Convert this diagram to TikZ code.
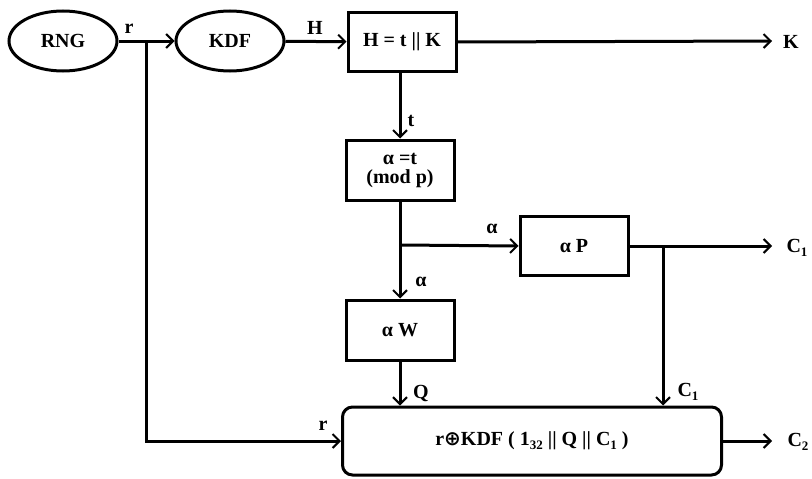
\documentclass[tikz,border=0pt]{standalone}
\usepackage{fontspec}
\setmainfont{Liberation Serif}
\newfontfamily\symfont{DejaVu Sans}
\usetikzlibrary{shapes.geometric,arrows.meta}

\newcommand{\lowsub}[1]{\raisebox{-0.45ex}{\fontsize{13}{13}\selectfont #1}}

\tikzset{
  blk/.style={draw, line width=3pt, minimum width=108pt, minimum height=59pt, inner sep=0pt, align=center},
  oval/.style={draw, ellipse, line width=3pt, minimum width=108pt, minimum height=60pt, inner sep=0pt},
  wire/.style={line width=3pt, -{Straight Barb[length=7pt,width=14pt,line width=2pt]}},
  lbl/.style={inner sep=0pt}
}

\begin{document}
\begin{tikzpicture}[x=1pt, y=-1pt, font=\fontsize{20}{22}\selectfont\bfseries, line cap=butt, line join=miter]

  %% ==== blocks ====
  \node[oval] (rng)  at (63,41)   {RNG};
  \node[oval] (kdf)  at (230,41)  {KDF};
  \node[blk]  (split) at (402,42) {H = t || K};
  \node[blk, minimum height=60pt] (amod) at (400,170) {α =t\\[-3pt](mod p)};
  \node[blk]  (ap)   at (574,246) {α P};
  \node[blk, minimum height=60pt] (aw) at (400,330) {α W};
  \node[draw, line width=3pt, rounded corners=10pt, minimum width=379pt, minimum height=68pt, inner sep=0pt]
        (enc) at (532,441) {r{\symfont ⊕}KDF ( 1\lowsub{32} || Q || C\lowsub{1} )};

  %% ==== branch points and free ends ====
  \coordinate (rfork) at (146,41);
  \coordinate (afork) at (400,245);
  \coordinate (cfork) at (663,246);
  \coordinate (kend)  at (772,41);
  \coordinate (c1end) at (772,246);
  \coordinate (c2end) at (772,441);

  %% ==== connectors ====
  \draw[wire] (rng) -- (kdf);
  \draw[wire] (rfork) |- (enc.west);
  \draw[wire] (kdf) -- (split);
  \draw[wire] (split.east) -- (kend);
  \draw[wire] (split.south -| amod.north) -- (amod.north);
  \draw[wire] (amod.south) -- (aw.north);
  \draw[wire] (afork) -- (ap.west);
  \draw[wire] (ap.east) -- (c1end);
  \draw[wire] (cfork) -- (cfork |- enc.north);
  \draw[wire] (aw.south) -- (aw.south |- enc.north);
  \draw[wire] (enc.east) -- (c2end);

  %% ==== labels ====
  \node[lbl] (rlbl)  at (129,29)  {r};
  \node[lbl] (hlbl)  at (315,28)  {H};
  \node[lbl] (klbl)  at (791,42)  {K};
  \node[lbl] (tlbl)  at (411,121) {t};
  \node[lbl] (albl1) at (492,229) {α};
  \node[lbl] (albl2) at (421,282) {α};
  \node[lbl] (c1lbl) at (797,248) {C\lowsub{1}};
  \node[lbl] (qlbl)  at (421,393) {Q};
  \node[lbl] (c1in)  at (688,392) {C\lowsub{1}};
  \node[lbl] (rin)   at (323,426) {r};
  \node[lbl] (c2lbl) at (798,442) {C\lowsub{2}};

  \pgfresetboundingbox
  \path[use as bounding box] (0,0) rectangle (812,479);
\end{tikzpicture}
\end{document}
